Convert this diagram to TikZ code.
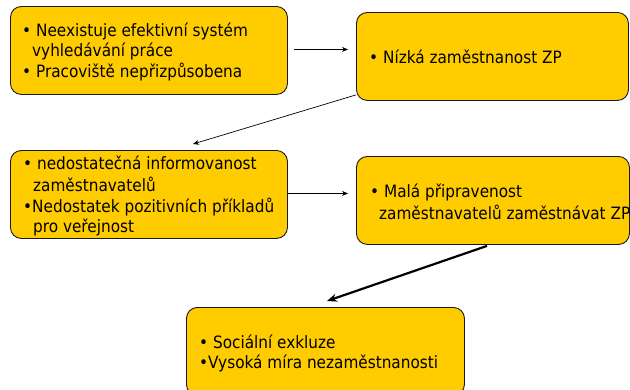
\documentclass[tikz,border=0pt]{standalone}
\usepackage{fontspec}
\setmainfont{DejaVu Sans Condensed}
\usetikzlibrary{calc,arrows.meta}
\definecolor{boxyellow}{HTML}{FFCC00}
\begin{document}
\begin{tikzpicture}[x=1pt,y=-1pt,
  box/.style={draw=black!90, line width=0.9pt, fill=boxyellow, rounded corners=11pt, inner sep=0pt, anchor=north west, minimum height=88pt},
  txt/.style={anchor=base west, inner sep=0pt, font=\fontsize{17}{20}\selectfont},
  conn/.style={-{Stealth[length=6pt,width=5pt]}, line width=0.7pt},
  thickconn/.style={-{Stealth[length=10pt,width=8pt]}, line width=2.2pt}]
\useasboundingbox (0,0) rectangle (630,389);
\begin{scope}
\clip (0,0) rectangle (630,389);
\node[box, minimum width=277pt] (b1) at (10,6) {};
\node[box, minimum width=272pt] (b2) at (356,12) {};
\node[box, minimum width=277pt] (b3) at (10,150) {};
\node[box, minimum width=273pt] (b4) at (356,156) {};
\node[box, minimum width=278pt] (b5) at (186,307) {};
\end{scope}
% texts
\node[txt] (t11) at (22,36) {•\ Neexistuje efektivní systém};
\node[txt] (t12) at (32,56) {vyhledávání práce};
\node[txt] (t13) at (22,77) {•\ Pracoviště nepřizpůsobena};
\node[txt] (t21) at (369,63) {•\ Nízká zaměstnanost ZP};
\node[txt] (t31) at (23,169) {•\ nedostatečná informovanost};
\node[txt] (t32) at (33,191) {zaměstnavatelů};
\node[txt] (t33) at (23,212) {•Nedostatek pozitivních příkladů};
\node[txt] (t34) at (33,232) {pro veřejnost};
\node[txt] (t41) at (370,197) {•\ Malá připravenost};
\node[txt] (t42) at (379,219) {zaměstnavatelů zaměstnávat ZP};
\node[txt] (t51) at (199,348) {•\ Sociální exkluze};
\node[txt] (t52) at (199,368) {•Vysoká míra nezaměstnanosti};
% connectors
\draw[conn] ($(b1.east)+(6,-1)$) -- ($(b2.west)+(-8,-7)$);
\draw[conn] ($(b2.south west)+(0,-6)$) -- ($(b3.north west)+(183,-6)$);
\draw[conn] ($(b3.east)+(0,-1)$) -- ($(b4.west)+(-8,-7)$);
\draw[thickconn] ($(b4.south west)+(131,1)$) -- ($(b5.north west)+(141,-6)$);
\end{tikzpicture}
\end{document}
